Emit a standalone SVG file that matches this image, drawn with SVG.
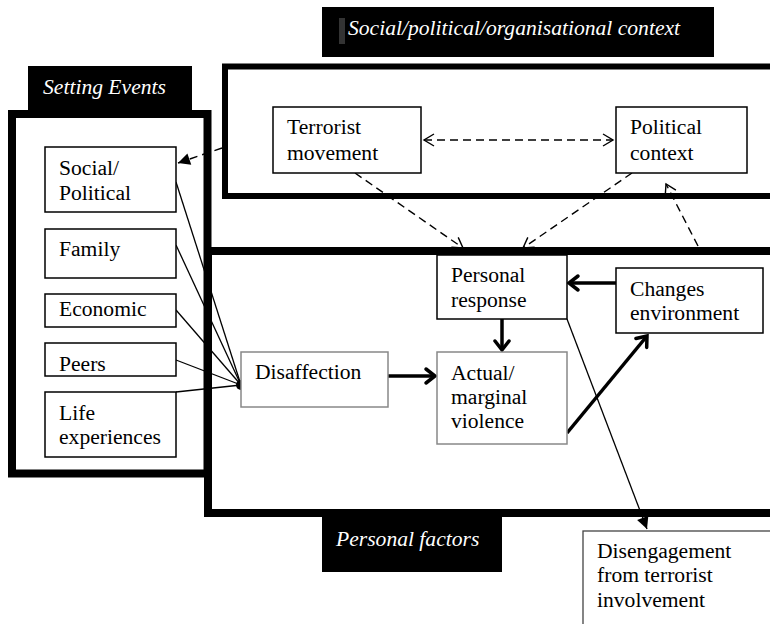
<svg xmlns="http://www.w3.org/2000/svg" width="770" height="624" viewBox="0 0 770 624">
<style>
text{font-family:"Liberation Serif","Times New Roman",serif;font-size:21.6px;fill:#000}
.lbl{font-style:italic;fill:#fff}
.box{fill:#fff;stroke:#000;stroke-width:1.5}
.gbox{fill:#fff;stroke:#888;stroke-width:1.5}
.frame{fill:none;stroke:#000}
.thin{stroke:#000;stroke-width:1.3;fill:none}
.dash{stroke:#000;stroke-width:1.4;fill:none;stroke-dasharray:8 5}
.thick{stroke:#000;stroke-width:3.5;fill:none}
</style>
<defs>
<marker id="thickHead" markerUnits="userSpaceOnUse" markerWidth="16" markerHeight="20" refX="13" refY="10" orient="auto" overflow="visible">
<path d="M4,3 L13,10 L4,17" fill="none" stroke="#000" stroke-width="3.5" stroke-linecap="round" stroke-linejoin="miter"/>
</marker>
<marker id="openHead" markerUnits="userSpaceOnUse" markerWidth="14" markerHeight="14" refX="12" refY="7" orient="auto-start-reverse" overflow="visible">
<path d="M2,1 L12,7 L2,13" fill="none" stroke="#000" stroke-width="1.4"/>
</marker>
<marker id="fillHead" markerUnits="userSpaceOnUse" markerWidth="14" markerHeight="12" refX="12" refY="6" orient="auto" overflow="visible">
<path d="M0,0 L12,6 L0,12 Z" fill="#000"/>
</marker>
</defs>

<g id="frames">
<rect id="setting-frame" class="frame" x="12" y="114" width="195.5" height="359.5" stroke-width="8"/>
<rect id="personal-frame" class="frame" x="208" y="251" width="620" height="262" stroke-width="8"/>
<rect id="social-frame" class="frame" x="225" y="66.5" width="600" height="129.5" stroke-width="6"/>
</g>

<g id="label-social">
<rect x="322" y="7" width="392" height="50" fill="#000"/>
<rect x="339" y="18" width="6" height="26" fill="#333"/>
<text class="lbl" x="348" y="35">Social/political/organisational context</text>
</g>
<g id="label-setting">
<rect x="28" y="66" width="164" height="48" fill="#000"/>
<text class="lbl" x="43" y="94">Setting Events</text>
</g>
<g id="label-personal">
<rect x="322" y="515" width="180" height="57" fill="#000"/>
<text class="lbl" x="336" y="546">Personal factors</text>
</g>

<g id="connectors">
<line class="thin" x1="176" y1="182" x2="241" y2="385"/>
<line class="thin" x1="176" y1="245" x2="241" y2="385"/>
<line class="thin" x1="176" y1="310" x2="241" y2="385"/>
<line class="thin" x1="176" y1="360" x2="241" y2="385"/>
<line class="thin" x1="176" y1="392" x2="241" y2="385"/>
<circle cx="241" cy="385" r="5" fill="#000"/>
<line class="thick" x1="388" y1="376" x2="435" y2="376" marker-end="url(#thickHead)"/>
<line class="thick" x1="502" y1="319" x2="502" y2="350" marker-end="url(#thickHead)"/>
<line class="thick" x1="616" y1="283" x2="569" y2="283" marker-end="url(#thickHead)"/>
<line class="thick" x1="567" y1="433" x2="647" y2="336" marker-end="url(#thickHead)"/>
<line class="dash" x1="222" y1="148" x2="178" y2="163" marker-end="url(#fillHead)"/>
<line class="dash" x1="424" y1="140" x2="613" y2="140" marker-start="url(#openHead)" marker-end="url(#openHead)"/>
<line class="dash" x1="355" y1="173" x2="463" y2="248" marker-end="url(#openHead)"/>
<line class="dash" x1="632" y1="173" x2="523" y2="248" marker-end="url(#openHead)"/>
<line class="dash" x1="698" y1="246" x2="666" y2="184" marker-end="url(#openHead)"/>
<line class="thin" x1="567" y1="319" x2="647" y2="529" marker-end="url(#fillHead)"/>
</g>

<g id="terrorist-movement">
<rect class="box" x="273" y="107" width="148" height="66"/>
<text x="287" y="134">Terrorist</text>
<text x="287" y="160">movement</text>
</g>
<g id="political-context">
<rect class="box" x="616" y="107" width="131" height="66"/>
<text x="630" y="134">Political</text>
<text x="630" y="160">context</text>
</g>
<g id="social-political">
<rect class="box" x="45" y="147" width="131" height="65"/>
<text x="59" y="175">Social/</text>
<text x="59" y="200">Political</text>
</g>
<g id="family">
<rect class="box" x="45" y="229" width="131" height="49"/>
<text x="59" y="256">Family</text>
</g>
<g id="economic">
<rect class="box" x="45" y="294" width="131" height="33"/>
<text x="59" y="316">Economic</text>
</g>
<g id="peers">
<rect class="box" x="45" y="343" width="131" height="33"/>
<text x="59" y="371">Peers</text>
</g>
<g id="life-experiences">
<rect class="box" x="45" y="392" width="131" height="65"/>
<text x="59" y="420">Life</text>
<text x="59" y="444">experiences</text>
</g>
<g id="disaffection">
<rect class="gbox" x="241" y="352" width="147" height="55"/>
<text x="255" y="379">Disaffection</text>
</g>
<g id="personal-response">
<rect class="box" x="437" y="255" width="130" height="64"/>
<text x="451" y="282">Personal</text>
<text x="451" y="307">response</text>
</g>
<g id="actual-violence">
<rect class="gbox" x="437" y="352" width="130" height="92"/>
<text x="451" y="380">Actual/</text>
<text x="451" y="404">marginal</text>
<text x="451" y="428">violence</text>
</g>
<g id="changes-environment">
<rect class="box" x="616" y="268" width="147" height="65"/>
<text x="630" y="296">Changes</text>
<text x="630" y="320">environment</text>
</g>
<g id="disengagement">
<rect x="583" y="531" width="200" height="110" fill="#fff" stroke="#444" stroke-width="1.3"/>
<text x="597" y="558">Disengagement</text>
<text x="597" y="582">from terrorist</text>
<text x="597" y="607">involvement</text>
</g>
</svg>
